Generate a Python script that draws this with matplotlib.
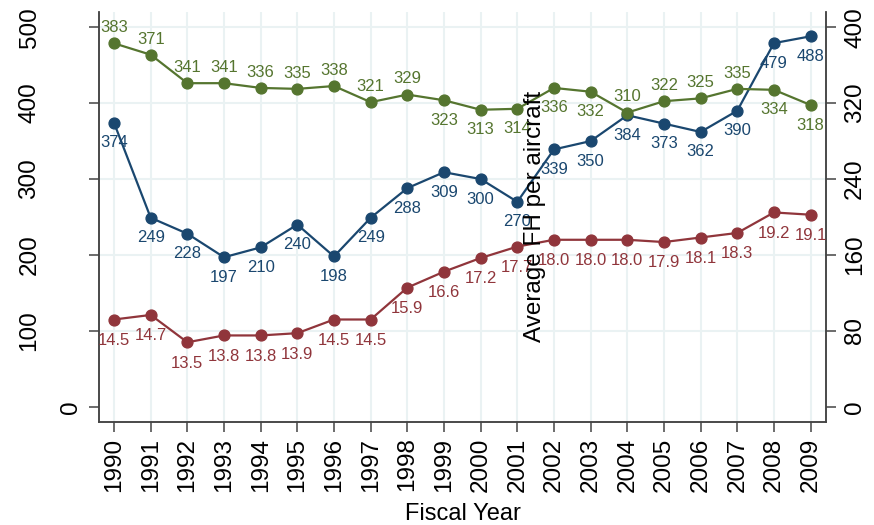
import matplotlib
matplotlib.use("Agg")
import matplotlib.pyplot as plt
from matplotlib.transforms import ScaledTranslation

plt.rcParams['font.family'] = ['Liberation Sans', 'DejaVu Sans']

years = list(range(1990, 2010))
fleet = [374, 249, 228, 197, 210, 240, 198, 249, 288, 309,
         300, 270, 339, 350, 384, 373, 362, 390, 479, 488]
hours = [383, 371, 341, 341, 336, 335, 338, 321, 329, 323,
         313, 314, 336, 332, 310, 322, 325, 335, 334, 318]
avg_fh = [14.5, 14.7, 13.5, 13.8, 13.8, 13.9, 14.5, 14.5, 15.9, 16.6,
          17.2, 17.7, 18.0, 18.0, 18.0, 17.9, 18.1, 18.3, 19.2, 19.1]
# label position for green series: True = above
hours_above = [True] * 9 + [False] * 5 + [True] * 4 + [False] * 2

left_ticks = [0, 100, 200, 300, 400, 500]
right_ticks = [0, 80, 160, 240, 320, 400]

C_BLUE = '#1a476f'
C_GREEN = '#55752f'
C_RED = '#90353b'
C_GRID = '#eaf2f3'
C_AX = '#444444'

TICK_FS = 17.5
LAB_FS = 12

W, H = 874, 525
fig = plt.figure(figsize=(W / 100, H / 100), dpi=100)
fig.patch.set_facecolor('white')
ax = fig.add_axes([99 / W, (H - 422) / H, (826 - 99) / W, (422 - 12) / H])
ax.set_xlim(1989.59, 2009.42)
ax.set_ylim(-20, 520)
ax2 = ax.twinx()
ax2.set_ylim(-16, 416)
ax3 = ax.twinx()
ax3.set_ylim(10, 28)
ax3.axis('off')

for a in (ax, ax2):
    a.spines['top'].set_visible(False)
    for s in ('left', 'right', 'bottom'):
        a.spines[s].set_color(C_AX)
        a.spines[s].set_linewidth(1.1)

ax.set_xticks(years)
ax.set_xticklabels([str(y) for y in years], rotation=90, fontsize=TICK_FS)
ax.set_yticks(left_ticks)
ax.set_yticklabels([str(v) for v in left_ticks], fontsize=TICK_FS, rotation=90,
                   ha='center', va='center')
ax.tick_params(axis='x', length=7.2, width=1.1, color=C_AX, pad=4)
ax.tick_params(axis='y', length=7.2, width=1.1, color=C_AX, pad=42.8)
ax2.set_yticks(right_ticks)
ax2.set_yticklabels([str(v) for v in right_ticks], fontsize=TICK_FS, rotation=90,
                    ha='center', va='center')
ax2.tick_params(axis='y', length=7.2, width=1.1, color=C_AX, pad=13.7)

# odd Stata placement of the single-digit "0" label on the left axis
lab0 = ax.yaxis.get_major_ticks()[0].label1
lab0.set_transform(lab0.get_transform() + ScaledTranslation(41.5 / 100, 0, fig.dpi_scale_trans))

ax.grid(True, color=C_GRID, linewidth=1.5)
ax.set_axisbelow(True)
ax.yaxis.get_gridlines()[0].set_visible(False)

kw = dict(linewidth=1.6, marker='o', markersize=7.8)
ax.plot(years, fleet, color=C_BLUE, **kw)
ax2.plot(years, hours, color=C_GREEN, **kw)
ax3.plot(years, avg_fh, color=C_RED, **kw)

for x, v in zip(years, fleet):
    ax.annotate(str(v), (x, v), xytext=(0, -14.4), textcoords='offset points',
                ha='center', va='center', fontsize=LAB_FS, color=C_BLUE)
for x, v, up in zip(years, hours, hours_above):
    ax2.annotate(str(v), (x, v), xytext=(0, 11.3 if up else -14.4),
                 textcoords='offset points', ha='center', va='center',
                 fontsize=LAB_FS, color=C_GREEN)
for x, v in zip(years, avg_fh):
    ax3.annotate(f"{v:.1f}", (x, v), xytext=(0, -15), textcoords='offset points',
                 ha='center', va='center', fontsize=LAB_FS, color=C_RED)

ax.set_xlabel('Fiscal Year', fontsize=17, labelpad=8)
fig.text(535 / W, 1 - 216 / H, 'Average FH per aircraft', rotation=90,
         fontsize=17.5, ha='center', va='center', zorder=10)

fig.savefig('out.png', dpi=100, facecolor='white')
